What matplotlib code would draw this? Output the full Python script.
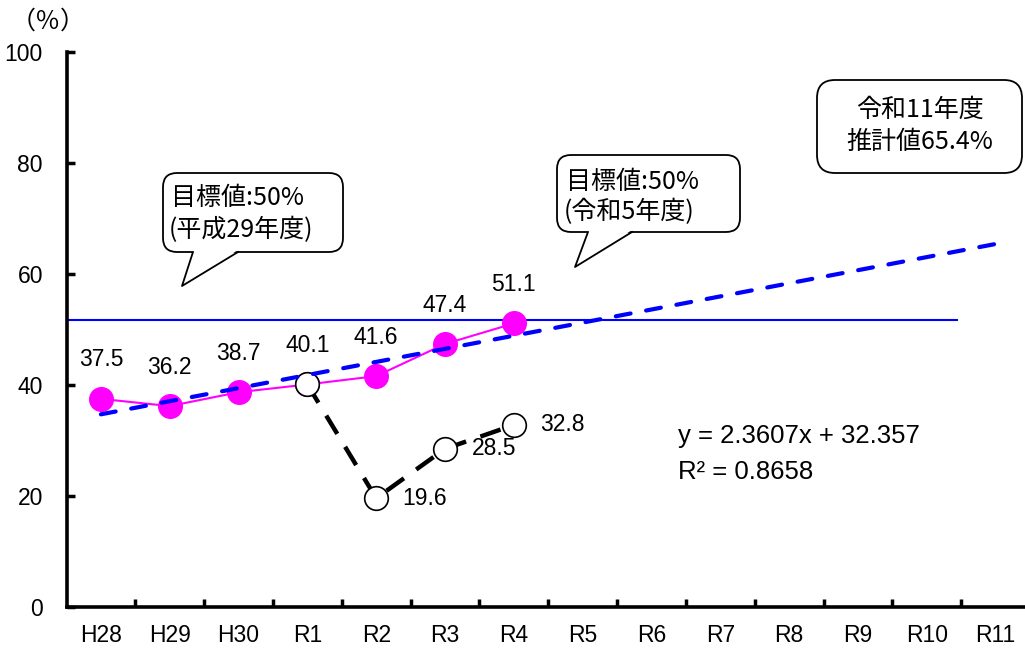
import matplotlib
matplotlib.use('Agg')
import matplotlib.pyplot as plt
import numpy as np
from matplotlib.patches import FancyBboxPatch, Polygon
from matplotlib.lines import Line2D
from matplotlib.transforms import IdentityTransform

plt.rcParams['font.family'] = ['Liberation Sans', 'Noto Sans CJK JP']

# data
years = ['H28', 'H29', 'H30', 'R1', 'R2', 'R3', 'R4',
         'R5', 'R6', 'R7', 'R8', 'R9', 'R10', 'R11']
rate = [37.5, 36.2, 38.7, 40.1, 41.6, 47.4, 51.1]
rate_alt = [40.1, 19.6, 28.5, 32.8]   # R1 - R4, second (dashed) series
alt_start = 3
target_value = 51.8
target_end = 12.44
eq_text = 'y = 2.3607x + 32.357'
r2_text = 'R\u00b2 = 0.8658'

W, H = 1025, 650
JP = ['Noto Sans CJK JP', 'DejaVu Sans']

fig = plt.figure(figsize=(W / 100, H / 100), dpi=100)
ax = fig.add_axes([66.5 / W, 43 / H, 963.5 / W, 555 / H])

x = np.arange(len(years))
x_rate = x[:len(rate)]
x_alt = x[alt_start:alt_start + len(rate_alt)]

# trend line (linear fit of the observed series, like the Excel trendline)
slope, intercept = np.polyfit(x_rate + 1, rate, 1)
trend = slope * (x + 1) + intercept

ax.plot([-0.5, target_end], [target_value, target_value], color='#0000FF',
        lw=1.5, zorder=1)
ax.plot(x_rate, rate, color='#FF00FF', lw=1.5, marker='o', markersize=17,
        markerfacecolor='#FF00FF', markeredgecolor='#FF00FF', zorder=2)
ax.plot(x_alt, rate_alt, color='black', lw=3.2, dashes=(4.8, 3.4),
        marker='o', markersize=17, markerfacecolor='white',
        markeredgecolor='black', markeredgewidth=1.2, zorder=3)
ax.plot(x, trend, color='#0000FF', lw=3, dashes=(3.6, 3.8),
        dash_capstyle='round', zorder=4)

for xi, v in zip(x_rate, rate):
    ax.annotate(f'{v}', (xi, v), xytext=(0, 28), textcoords='offset points',
                ha='center', va='center', fontsize=16.5)
for xi, v in zip(x_alt[1:], rate_alt[1:]):
    ax.annotate(f'{v}', (xi, v), xytext=(19, 0), textcoords='offset points',
                ha='left', va='center', fontsize=16.5)

ax.set_xlim(-0.5, len(years) - 0.5)
ax.set_ylim(0, 100)
ax.set_xticks(x)
ax.set_xticklabels(years)
ax.set_xticks(x[:-1] + 0.5, minor=True)
ax.set_yticks(np.arange(0, 101, 20))
ax.tick_params(axis='x', which='major', length=0, pad=12, labelsize=16.5)
ax.tick_params(axis='x', which='minor', direction='in', length=6, width=2.5)
ax.tick_params(axis='y', direction='in', length=6, width=2.5, pad=17,
               labelsize=16.5)
for s in ['top', 'right']:
    ax.spines[s].set_visible(False)
for s in ['left', 'bottom']:
    ax.spines[s].set_linewidth(2.6)
ax.patch.set_visible(False)

fig.text(48 / W, 1 - 22 / H, '（％）', family=JP, fontsize=18,
         ha='center', va='center')
fig.text(678 / W, 1 - 436 / H, eq_text, fontsize=18.5, ha='left', va='center')
fig.text(678 / W, 1 - 472 / H, r2_text, fontsize=18.5, ha='left', va='center')


def bubble(x0, y0, x1, y1, r, pointer=None):
    box = FancyBboxPatch((x0, H - y1), x1 - x0, y1 - y0,
                         boxstyle=f'round,pad=0,rounding_size={r}',
                         transform=IdentityTransform(), fc='white',
                         ec='black', lw=1.3, zorder=5)
    fig.add_artist(box)
    if pointer:
        bx0, bx1, tx, ty = pointer
        fig.add_artist(Polygon([(bx0, H - y1 + 2), (tx, H - ty),
                                (bx1, H - y1 + 2)], closed=True,
                               transform=IdentityTransform(), fc='white',
                               ec='none', zorder=6))
        fig.add_artist(Line2D([bx0, tx, bx1], [H - y1, H - ty, H - y1],
                              transform=IdentityTransform(), color='black',
                              lw=1.3, zorder=7))


bubble(163, 173, 343, 252, 14, (193, 238, 182, 286))
fig.text(171 / W, 1 - 198 / H, '目標値:50%', family=JP, fontsize=18,
         ha='left', va='center', zorder=8)
fig.text(169 / W, 1 - 230 / H, '(平成29年度)', family=JP, fontsize=18,
         ha='left', va='center', zorder=8)

bubble(557, 155, 740, 232, 14, (588, 632, 575, 267))
fig.text(566 / W, 1 - 182 / H, '目標値:50%', family=JP, fontsize=18,
         ha='left', va='center', zorder=8)
fig.text(564 / W, 1 - 212 / H, '(令和5年度)', family=JP, fontsize=18,
         ha='left', va='center', zorder=8)

bubble(817, 80, 1022, 173, 18)
fig.text(920 / W, 1 - 110 / H, '令和11年度', family=JP, fontsize=18,
         ha='center', va='center', zorder=8)
fig.text(920 / W, 1 - 142 / H, '推計値65.4%', family=JP, fontsize=18,
         ha='center', va='center', zorder=8)

fig.savefig('out.png', dpi=100)
